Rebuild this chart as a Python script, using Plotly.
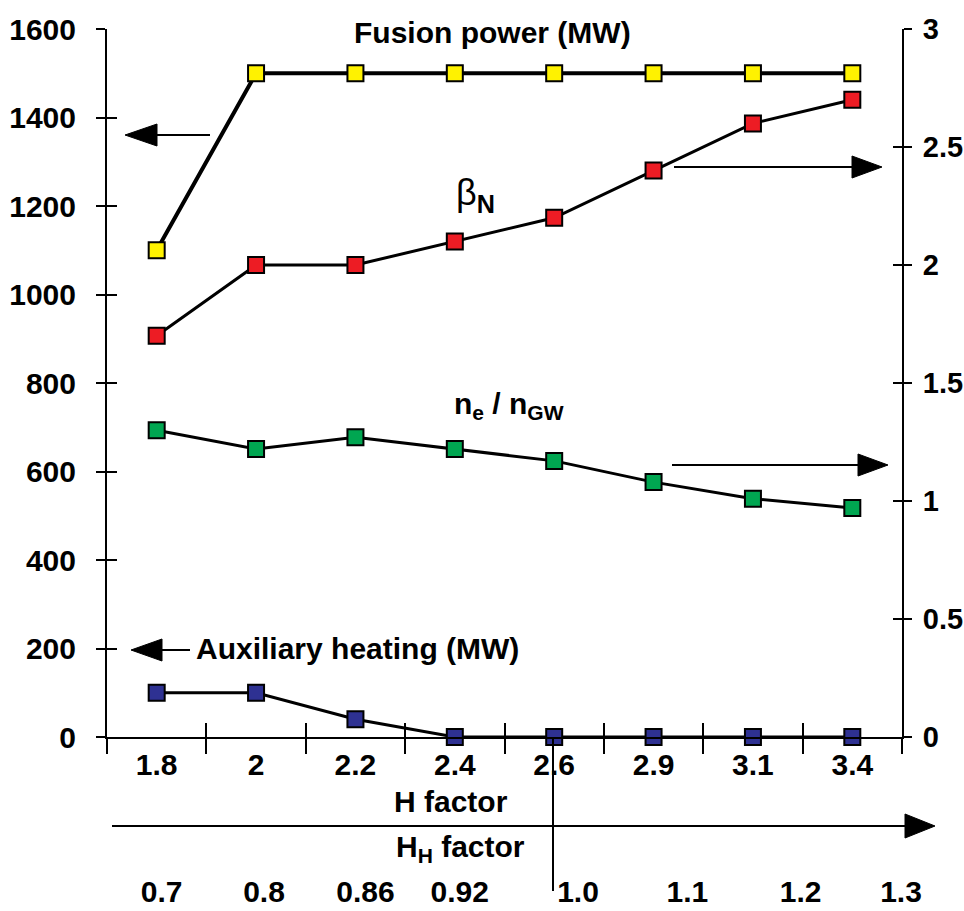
import plotly.graph_objects as go

# ---------------- data ----------------
h_factor = ["1.8", "2", "2.2", "2.4", "2.6", "2.9", "3.1", "3.4"]
fusion_power = [1100, 1500, 1500, 1500, 1500, 1500, 1500, 1500]   # MW, left axis
aux_heating = [100, 100, 40, 0, 0, 0, 0, 0]                        # MW, left axis
beta_n = [1.7, 2.0, 2.0, 2.1, 2.2, 2.4, 2.6, 2.7]                  # right axis
ne_ngw = [1.3, 1.22, 1.27, 1.22, 1.17, 1.08, 1.01, 0.97]           # right axis

left_ticks = [0, 200, 400, 600, 800, 1000, 1200, 1400, 1600]
right_ticks = [0, 0.5, 1, 1.5, 2, 2.5, 3]
right_tick_text = ["0", "0.5", "1", "1.5", "2", "2.5", "3"]
hh_labels = ["0.7", "0.8", "0.86", "0.92", "1.0", "1.1", "1.2", "1.3"]

# positions (category-index units) of the H_H labels
hh_positions = [0.05, 1.08, 2.10, 3.05, 4.24, 5.34, 6.48, 7.49]
boundaries = [i - 0.5 for i in range(len(h_factor) + 1)]

# ---------------- layout geometry ----------------
W, H = 964, 911
ML, MR, MT, MB = 107, 62, 29, 44
PW, PH = W - ML - MR, H - MT - MB
AXIS_Y = 737
ydom0 = (H - MB - AXIS_Y) / PH


def px(x):
    return (x - ML) / PW


def py(y):
    return (H - MB - y) / PH


FONT = "Liberation Sans, Arial, sans-serif"
tickfont = dict(family=FONT, size=30, color="black", weight="bold")
rtickfont = dict(family=FONT, size=29, color="black", weight="bold")

colors = dict(yellow="#FFF200", red="#ED1C24", green="#00A651", blue="#2E3192")

fig = go.Figure()


def add(y, color, axis, lw):
    fig.add_trace(go.Scatter(
        x=h_factor, y=y, mode="lines+markers", yaxis=axis, xaxis="x",
        line=dict(color="black", width=lw),
        marker=dict(symbol="square", size=16, color=color,
                    line=dict(color="black", width=2)),
        cliponaxis=False, showlegend=False, hoverinfo="skip"))


add(fusion_power, colors["yellow"], "y", 4)
add(beta_n, colors["red"], "y2", 3)
add(ne_ngw, colors["green"], "y2", 3)
add(aux_heating, colors["blue"], "y", 3)


# invisible helper traces so that the overlay axes (extra ticks, H_H labels) get drawn
def helper(xa, ya, xv, yv):
    fig.add_trace(go.Scatter(x=[xv], y=[yv], xaxis=xa, yaxis=ya, mode="markers",
                             marker=dict(size=1, opacity=0), showlegend=False,
                             hoverinfo="skip"))


helper("x3", "y", 0, 0)
helper("x2", "y", 0, 0)
helper("x", "y3", h_factor[0], 0)
helper("x", "y4", h_factor[0], 0)

common_off = dict(showgrid=False, zeroline=False, automargin=False)

fig.update_layout(
    width=W, height=H,
    margin=dict(l=ML, r=MR, t=MT, b=MB, autoexpand=False),
    paper_bgcolor="white", plot_bgcolor="white",
    font=dict(family=FONT, color="black"),
    xaxis=dict(type="category", range=[-0.5, 7.5], anchor="y", domain=[0, 1],
               categoryorder="array", categoryarray=h_factor,
               showline=True, linecolor="black", linewidth=2,
               ticks="outside", ticklen=15, tickwidth=2, tickcolor="black",
               tickson="boundaries", tickfont=tickfont, ticklabelstandoff=0,
               **common_off),
    xaxis3=dict(overlaying="x", anchor="y", range=[-0.5, 7.5], type="linear",
                tickmode="array", tickvals=boundaries, ticks="inside",
                ticklen=14, tickwidth=2, tickcolor="black",
                showticklabels=False, showline=False, **common_off),
    xaxis2=dict(overlaying="x", anchor="free", position=0, range=[-0.5, 7.5],
                type="linear", tickmode="array", tickvals=hh_positions,
                ticktext=hh_labels, ticks="", showline=False, tickfont=tickfont,
                ticklabelstandoff=4, **common_off),
    yaxis=dict(range=[0, 1600], domain=[ydom0, 1], anchor="x",
               tickmode="array", tickvals=left_ticks,
               showline=True, linecolor="black", linewidth=2,
               ticks="outside", ticklen=9, tickwidth=2, tickcolor="black",
               tickfont=tickfont, ticklabelstandoff=14, **common_off),
    yaxis3=dict(range=[0, 1600], overlaying="y", side="left", anchor="x",
                tickmode="array", tickvals=left_ticks, ticks="inside",
                ticklen=10, tickwidth=2, tickcolor="black",
                showticklabels=False, showline=False, **common_off),
    yaxis2=dict(range=[0, 3], overlaying="y", side="right", anchor="x",
                tickmode="array", tickvals=right_ticks, ticktext=right_tick_text,
                showline=True, linecolor="black", linewidth=2,
                ticks="outside", ticklen=8, tickwidth=2, tickcolor="black",
                tickfont=rtickfont, ticklabelstandoff=5, **common_off),
    yaxis4=dict(range=[0, 3], overlaying="y", side="right", anchor="x",
                tickmode="array", tickvals=right_ticks, ticks="inside",
                ticklen=9, tickwidth=2, tickcolor="black",
                showticklabels=False, showline=False, **common_off),
)

# ---------------- arrows / guide lines ----------------
shapes = []


def seg(x0, y0, x1, y1, w=2):
    shapes.append(dict(type="line", xref="paper", yref="paper",
                       x0=px(x0), y0=py(y0), x1=px(x1), y1=py(y1),
                       line=dict(color="black", width=w)))


def head(tip_x, y, base_x, half):
    path = "M{},{} L{},{} L{},{} Z".format(
        px(tip_x), py(y), px(base_x), py(y - half), px(base_x), py(y + half))
    shapes.append(dict(type="path", xref="paper", yref="paper", path=path,
                       fillcolor="black", line=dict(color="black", width=1)))


# fusion power -> left axis
seg(210, 135, 150, 135); head(125, 135, 157, 11)
# beta_N -> right axis
seg(674, 167, 856, 167); head(882, 167, 852, 11)
# ne/nGW -> right axis
seg(672, 465, 862, 465); head(888, 465, 858, 11)
# auxiliary heating -> left axis
seg(190, 650, 160, 650); head(131, 650, 162, 11)
# long H factor arrow
seg(112, 826, 910, 826); head(935, 826, 905, 12)
# vertical marker at H_H = 1.0
seg(553, 738, 553, 891)

fig.update_layout(shapes=shapes)


# ---------------- text labels ----------------
def label(text, x, y, weight="bold", size=30):
    fig.add_annotation(text=text, xref="paper", yref="paper", x=px(x), y=py(y),
                       xanchor="center", yanchor="middle", showarrow=False,
                       font=dict(family=FONT, size=size, color="black", weight=weight))


label("Fusion power (MW)", 492, 32)
label("β<sub><b>N</b></sub>", 475, 195, weight="normal", size=36)
label("n<sub>e</sub> / n<sub>GW</sub>", 509, 405)
label("Auxiliary heating (MW)", 357, 648)
label("H factor", 451, 801)
label("H<sub>H</sub> factor", 460, 848)

fig.write_html("out.html")
